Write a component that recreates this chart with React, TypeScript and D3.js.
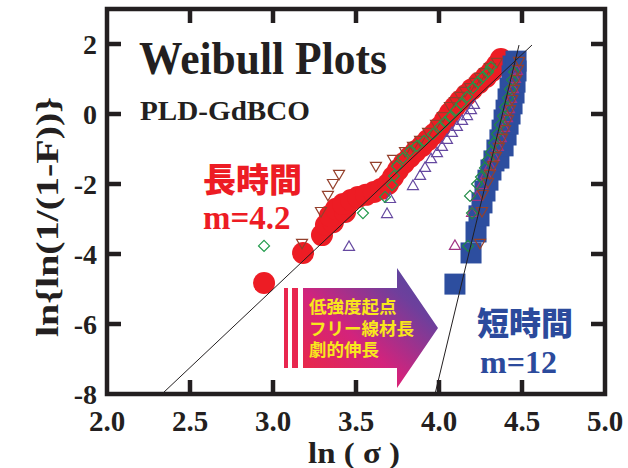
import React from 'react';
import * as d3 from 'd3';

type P = [number, number];

const xTicks = [2.0, 2.5, 3.0, 3.5, 4.0, 4.5, 5.0];
const yTicks = [2, 0, -2, -4, -6, -8];

// long-time test (red circles)
const longCircles: P[] = [
  [2.946, -4.83], [3.181, -3.97], [3.295, -3.46], [3.319, -3.17], [3.361, -3.09],
  [3.343, -2.91], [3.380, -2.71], [3.434, -2.80], [3.422, -2.57], [3.470, -2.46],
  [3.512, -2.37], [3.560, -2.31], [3.608, -2.23], [3.651, -2.14], [3.693, -2.0],
  [3.723, -1.80], [3.753, -1.60], [3.789, -1.40], [3.825, -1.23], [3.861, -1.06],
  [3.898, -0.91], [3.934, -0.74], [3.970, -0.57], [4.006, -0.37], [4.036, -0.17],
  [4.066, 0.03], [4.096, 0.20], [4.127, 0.37], [4.163, 0.54], [4.199, 0.71],
  [4.241, 0.89], [4.283, 1.06], [4.319, 1.23], [4.349, 1.40], [4.373, 1.57],
];

// short-time test (blue squares)
const shortSquares: P[] = [
  [4.096, -4.86], [4.193, -3.97], [4.223, -3.37], [4.241, -2.91], [4.259, -2.54],
  [4.277, -2.20], [4.295, -1.89], [4.313, -1.60], [4.331, -1.34], [4.361, -1.26],
  [4.349, -1.03], [4.386, -0.91], [4.367, -0.74], [4.404, -0.60], [4.380, -0.46],
  [4.416, -0.29], [4.392, -0.17], [4.428, 0.0], [4.404, 0.11], [4.440, 0.29],
  [4.416, 0.43], [4.452, 0.60], [4.428, 0.74], [4.458, 0.91], [4.440, 1.09],
  [4.464, 1.23], [4.446, 1.37], [4.464, 1.51],
];

// other samples, long-time group
const longDownTri: P[] = [
  [3.175, -3.71], [3.289, -2.80], [3.331, -2.34], [3.361, -2.0], [3.398, -1.74],
  [3.620, -1.51], [3.723, -1.31], [3.795, -1.09], [3.843, -0.94], [3.886, -0.77],
  [3.934, -0.54], [3.982, -0.31], [4.024, -0.09], [4.066, 0.20], [4.096, 0.34],
  [4.127, 0.49], [4.157, 0.63], [4.187, 0.74], [4.217, 0.89], [4.247, 1.03],
  [4.277, 1.17], [4.307, 1.31], [4.349, 1.46],
];
const longDiamond: P[] = [
  [2.946, -3.77], [3.542, -2.83], [3.675, -2.37], [3.717, -2.03], [3.729, -1.77],
  [3.747, -1.49], [3.783, -1.26], [3.825, -1.06], [3.867, -0.91], [3.910, -0.77],
  [3.964, -0.57], [4.006, -0.37], [4.036, -0.23], [4.066, -0.09], [4.102, 0.11],
  [4.133, 0.29], [4.169, 0.49], [4.205, 0.74], [4.235, 0.91], [4.265, 1.06],
  [4.295, 1.20], [4.313, 1.34],
];
const longUpTri: P[] = [
  [3.458, -3.77], [3.687, -2.83], [3.705, -2.40], [3.843, -2.03], [3.886, -1.74],
  [3.916, -1.51], [3.952, -1.26], [3.988, -1.09], [4.018, -0.91], [4.048, -0.71],
  [4.078, -0.51], [4.108, -0.34], [4.139, -0.17], [4.169, -0.03], [4.193, 0.14],
  [4.211, 0.29],
];

// other samples, short-time group
const shortUpTri: P[] = [
  [4.096, -3.74], [4.199, -2.80], [4.229, -2.34], [4.259, -2.0], [4.283, -1.71],
  [4.307, -1.46], [4.331, -1.20], [4.355, -0.91], [4.373, -0.66], [4.392, -0.37],
  [4.410, -0.09], [4.422, 0.17], [4.434, 0.46], [4.446, 0.74], [4.458, 1.03],
  [4.470, 1.26],
];
const shortDiamond: P[] = [
  [4.175, -3.77], [4.199, -2.83], [4.187, -2.34], [4.229, -2.0], [4.253, -1.80],
  [4.277, -1.54], [4.295, -1.31], [4.313, -1.09], [4.331, -0.83], [4.349, -0.57],
  [4.367, -0.31], [4.386, -0.06], [4.398, 0.20], [4.416, 0.46], [4.428, 0.71],
  [4.440, 0.97], [4.452, 1.20],
];
const shortDownTri: P[] = [
  [4.247, -3.71], [4.259, -2.80], [4.265, -2.31], [4.295, -1.97], [4.307, -1.74],
  [4.325, -1.49], [4.343, -1.23], [4.361, -0.97], [4.380, -0.71], [4.398, -0.46],
  [4.416, -0.17], [4.428, 0.11], [4.440, 0.40], [4.452, 0.69], [4.464, 0.97],
  [4.476, 1.26], [4.482, 1.49],
];

// fitted Weibull lines
const longFit: P[] = [[2.331, -8], [4.56, 1.97]];
const shortFit: P[] = [[3.976, -8], [4.482, 1.97]];

const arrowLines = ['低強度起点', 'フリー線材長', '劇的伸長'];

const SERIF = '"Liberation Serif", "Times New Roman", serif';
const JP = '"Noto Sans CJK JP", "Noto Sans CJK SC", sans-serif';
const INK = '#231f20';

export default function App() {
  const W = 628, H = 468;
  const x = d3.scaleLinear().domain([2, 5]).range([107, 605]);
  const y = d3.scaleLinear().domain([-8, 3]).range([394, 9]);
  const line = d3.line<P>().x(d => x(d[0])).y(d => y(d[1]));

  const down = (d: P) => {
    const cx = x(d[0]), cy = y(d[1]);
    return `M${cx - 5.5},${cy - 4.5}L${cx + 5.5},${cy - 4.5}L${cx},${cy + 5}Z`;
  };
  const up = (d: P) => {
    const cx = x(d[0]), cy = y(d[1]);
    return `M${cx - 5.5},${cy + 4.5}L${cx + 5.5},${cy + 4.5}L${cx},${cy - 5}Z`;
  };
  const dia = (d: P) => {
    const cx = x(d[0]), cy = y(d[1]);
    return `M${cx},${cy - 5.5}L${cx + 5.5},${cy}L${cx},${cy + 5.5}L${cx - 5.5},${cy}Z`;
  };

  const x0 = x(2), x1 = x(5), yT = y(3), yB = y(-8);

  return (
    <svg width={W} height={H} style={{ position: 'absolute', left: 0, top: 0, background: '#fff' }}>
      <defs>
        <linearGradient id="arrowGrad" x1="0" y1="1" x2="1" y2="0">
          <stop offset="0" stopColor="#ee2a3c" />
          <stop offset="0.4" stopColor="#d3237c" />
          <stop offset="0.75" stopColor="#6e3f9c" />
          <stop offset="1" stopColor="#4a4ba2" />
        </linearGradient>
      </defs>
      <rect width={W} height={H} fill="#fff" />

      {/* title texts */}
      <text x={139} y={74} fontFamily={SERIF} fontWeight="bold" fontSize={46} fill={INK}
        textLength={248} lengthAdjust="spacingAndGlyphs">Weibull Plots</text>
      <text x={140} y={120} fontFamily={SERIF} fontWeight="bold" fontSize={28} fill={INK}
        textLength={170} lengthAdjust="spacingAndGlyphs">PLD-GdBCO</text>

      {/* arrow */}
      <rect x={284} y={288} width={4} height={80} fill="#e8264f" />
      <rect x={292} y={288} width={6} height={80} fill="#e8264f" />
      <path d="M303,288L397,288L397,268L438,328L397,388L397,368L303,368Z" fill="url(#arrowGrad)" />
      {arrowLines.map((t, i) => (
        <text key={t} x={309} y={313 + i * 21.5} fontFamily={JP} fontWeight="bold" fontSize={17.5}
          fill="#f8e81c">{t}</text>
      ))}

      {/* big marks */}
      {longCircles.map((d, i) => (
        <circle key={'c' + i} cx={x(d[0])} cy={y(d[1])} r={11} fill="#ed1c24" />
      ))}
      {shortSquares.map((d, i) => (
        <rect key={'s' + i} x={x(d[0]) - 10.5} y={y(d[1]) - 10.5} width={21} height={21} fill="#2d4e9f" />
      ))}

      {/* small open marks */}
      <g fill="none" strokeWidth={1.2}>
        {longDownTri.map((d, i) => <path key={'ld' + i} d={down(d)} stroke="#94402c" />)}
        {longUpTri.map((d, i) => <path key={'lu' + i} d={up(d)} stroke="#6548a0" />)}
        {longDiamond.map((d, i) => <path key={'lg' + i} d={dia(d)} stroke="#1f9a4a" />)}
        {shortUpTri.map((d, i) => <path key={'su' + i} d={up(d)} stroke="#a03383" />)}
        {shortDiamond.map((d, i) => <path key={'sg' + i} d={dia(d)} stroke="#1f8a45" />)}
        {shortDownTri.map((d, i) => <path key={'sd' + i} d={down(d)} stroke="#94402c" />)}
      </g>

      {/* fitted lines */}
      <path d={line(longFit) || ''} stroke={INK} strokeWidth={1} fill="none" />
      <path d={line(shortFit) || ''} stroke={INK} strokeWidth={1} fill="none" />

      {/* annotations */}
      <text x={203} y={192} fontFamily={JP} fontWeight={900} fontSize={33} fill="#ed1c24">長時間</text>
      <text x={203} y={229} fontFamily={SERIF} fontWeight="bold" fontSize={33} fill="#ed1c24">m=4.2</text>
      <text x={477} y={335} fontFamily={JP} fontWeight={900} fontSize={32} fill="#2b4a9c">短時間</text>
      <text x={480} y={373} fontFamily={SERIF} fontWeight="bold" fontSize={32} fill="#2b4a9c">m=12</text>

      {/* frame & ticks */}
      <g stroke={INK} strokeWidth={4.5} fill="none">
        <rect x={x0} y={yT} width={x1 - x0} height={yB - yT} />
        {xTicks.slice(1, -1).map(t => (
          <g key={'xt' + t}>
            <line x1={x(t)} x2={x(t)} y1={yB} y2={yB - 14} />
            <line x1={x(t)} x2={x(t)} y1={yT} y2={yT + 14} />
          </g>
        ))}
        {yTicks.slice(0, -1).map(t => (
          <g key={'yt' + t}>
            <line x1={x0} x2={x0 + 14} y1={y(t)} y2={y(t)} />
            <line x1={x1} x2={x1 - 14} y1={y(t)} y2={y(t)} />
          </g>
        ))}
      </g>

      {/* tick labels */}
      {xTicks.map(t => (
        <text key={'xl' + t} x={x(t)} y={431} textAnchor="middle" fontFamily={SERIF} fontWeight="bold"
          fontSize={29} fill={INK}>{t.toFixed(1)}</text>
      ))}
      {yTicks.map(t => (
        <text key={'yl' + t} x={97} y={y(t)} dy="0.35em" textAnchor="end" fontFamily={SERIF} fontWeight="bold"
          fontSize={28} fill={INK}>{String(t)}</text>
      ))}

      {/* axis titles */}
      <text x={354} y={463} textAnchor="middle" fontFamily={SERIF} fontWeight="bold" fontSize={30} fill={INK}
        textLength={92} lengthAdjust="spacingAndGlyphs">{'ln (  σ )'}</text>
      <text transform="translate(58,217) rotate(-90)" textAnchor="middle" fontFamily={SERIF} fontWeight="bold"
        fontSize={32} fill={INK} textLength={240} lengthAdjust="spacingAndGlyphs">ln{'{'}ln(1/(1-F)){'}'}</text>
    </svg>
  );
}
